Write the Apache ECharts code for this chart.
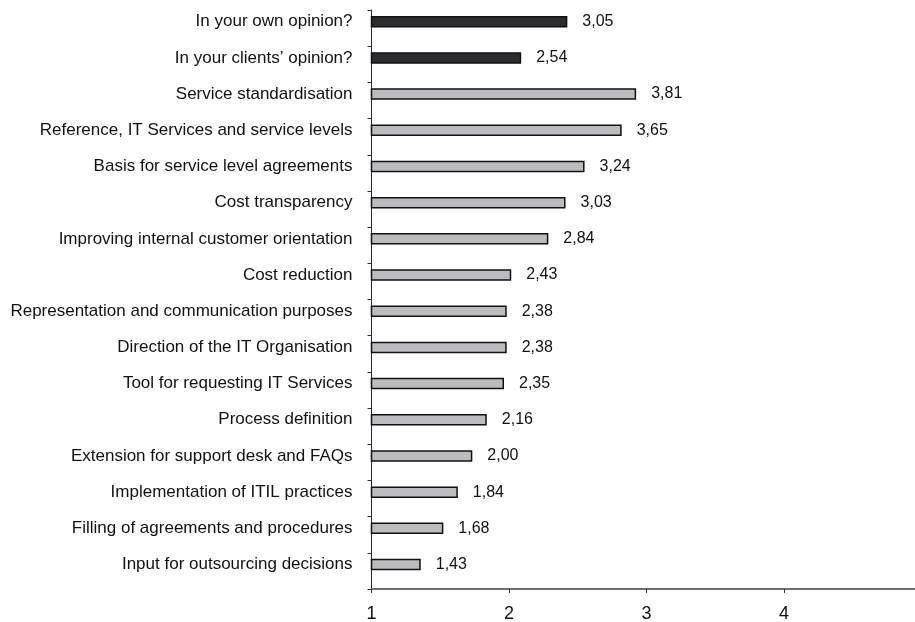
<!DOCTYPE html>
<html>
<head>
<meta charset="utf-8">
<title>Service catalogue ratings</title>
<script src="https://cdn.jsdelivr.net/npm/echarts@6/dist/echarts.min.js"></script>
<style>
  html, body { margin: 0; padding: 0; background: #ffffff; }
  #chart { width: 915px; height: 622px; }
</style>
</head>
<body>
<div id="chart"></div>
<script>
// Overall rating questions (dark bars)
const opinionLabels = ['In your own opinion?', 'In your clients\u2019 opinion?'];
const opinionScores = [3.05, 2.54];

// Ratings per purpose of the service catalogue (grey bars)
const purposeLabels = [
  'Service standardisation',
  'Reference, IT Services and service levels',
  'Basis for service level agreements',
  'Cost transparency',
  'Improving internal customer orientation',
  'Cost reduction',
  'Representation and communication purposes',
  'Direction of the IT Organisation',
  'Tool for requesting IT Services',
  'Process definition',
  'Extension for support desk and FAQs',
  'Implementation of ITIL practices',
  'Filling of agreements and procedures',
  'Input for outsourcing decisions'
];
const purposeScores = [3.81, 3.65, 3.24, 3.03, 2.84, 2.43, 2.38, 2.38, 2.35, 2.16, 2.00, 1.84, 1.68, 1.43];

// Scale tick labels along the bottom axis
const scaleTicks = [1, 2, 3, 4, 5];

const categories = opinionLabels.concat(purposeLabels);
const opinionData = opinionScores.concat(purposeLabels.map(() => '-'));
const purposeData = opinionLabels.map(() => '-').concat(purposeScores);

const FONT = '"Liberation Sans", Arial, Helvetica, sans-serif';
const TEXT = '#111111';

const chart = echarts.init(document.getElementById('chart'), null, { renderer: 'canvas' });

const valueLabel = {
  show: true,
  position: 'right',
  distance: 15,
  fontFamily: FONT,
  fontSize: 16,
  color: TEXT,
  formatter: p => Number(p.value).toFixed(2).replace('.', ',')
};

chart.setOption({
  animation: false,
  backgroundColor: '#ffffff',
  grid: [
    // frame: scale axis and category tick marks
    { left: 371.5, right: -6.5, top: 10, bottom: 33, outerBoundsMode: 'none', containLabel: false },
    // bars and their labels
    { left: 371.5, right: -6.5, top: 3.6, bottom: 39.4, outerBoundsMode: 'none', containLabel: false }
  ],
  xAxis: [
    {
      gridIndex: 0,
      type: 'value',
      min: scaleTicks[0],
      max: scaleTicks[scaleTicks.length - 1],
      interval: 1,
      splitLine: { show: false },
      axisLine: { show: true, lineStyle: { color: '#6f6f6f', width: 2 } },
      axisTick: { show: true, length: 4, lineStyle: { color: '#333333', width: 1 } },
      axisLabel: {
        margin: 16, fontFamily: FONT, fontSize: 18, color: TEXT,
        formatter: v => scaleTicks.includes(v) ? String(v) : ''
      }
    },
    {
      gridIndex: 1,
      type: 'value',
      min: 0.886,
      max: 6.963,
      show: false,
      splitLine: { show: false }
    }
  ],
  yAxis: [
    {
      gridIndex: 0,
      type: 'category',
      inverse: true,
      data: categories,
      boundaryGap: true,
      axisLine: { show: true, lineStyle: { color: '#2a2a2a', width: 1 } },
      axisTick: { show: true, length: 4, lineStyle: { color: '#2a2a2a', width: 1 } },
      axisLabel: { show: false }
    },
    {
      gridIndex: 1,
      type: 'category',
      inverse: true,
      data: categories,
      axisLine: { show: false },
      axisTick: { show: false },
      axisLabel: { margin: 19, fontFamily: FONT, fontSize: 17, color: TEXT }
    }
  ],
  series: [
    {
      type: 'bar',
      xAxisIndex: 1,
      yAxisIndex: 1,
      data: opinionData,
      barWidth: 11.5,
      barGap: '-100%',
      clip: true,
      itemStyle: { color: '#2b2d30', borderColor: '#111111', borderWidth: 1.5 },
      label: valueLabel
    },
    {
      type: 'bar',
      xAxisIndex: 1,
      yAxisIndex: 1,
      data: purposeData,
      barWidth: 11.5,
      barGap: '-100%',
      clip: true,
      itemStyle: { color: '#bcbcc0', borderColor: '#111111', borderWidth: 1.5 },
      label: valueLabel
    }
  ]
});
</script>
</body>
</html>
